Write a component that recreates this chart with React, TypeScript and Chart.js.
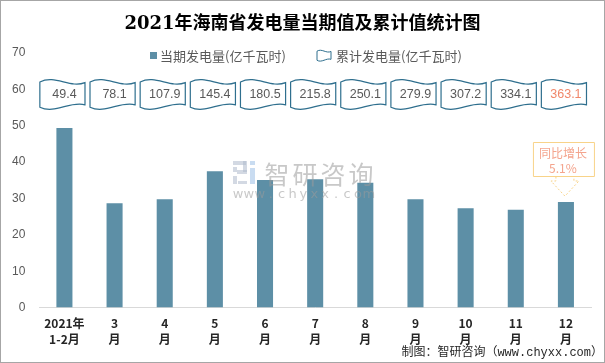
import React, { useEffect, useRef } from "react";
import { Chart, registerables } from "chart.js";

Chart.register(...registerables);

const TITLE = "2021年海南省发电量当期值及累计值统计图";
const LABELS_TOP = ["2021年", "3", "4", "5", "6", "7", "8", "9", "10", "11", "12"];
const LABELS_BOTTOM = ["1-2月", "月", "月", "月", "月", "月", "月", "月", "月", "月", "月"];
const MONTHLY = [49.4, 28.7, 29.8, 37.5, 35.1, 35.3, 34.3, 29.8, 27.3, 26.9, 29.0];
const CUMULATIVE = [49.4, 78.1, 107.9, 145.4, 180.5, 215.8, 250.1, 279.9, 307.2, 334.1, 363.1];
const SERIES_MONTHLY = "当期发电量(亿千瓦时)";
const SERIES_CUM = "累计发电量(亿千瓦时)";
const YOY_LABEL = "同比增长";
const YOY_VALUE = "5.1%";
const SOURCE = "制图：智研咨询（www.chyxx.com）";
const WM_TEXT = "智研咨询";
const WM_URL = "www.chyxx.com";

const SANS = "'Noto Sans CJK SC', 'Noto Sans', sans-serif";
const BAR_COLOR = "#5d8fa6";
const FLAG_STROKE = "#2f6f8e";

function wavePath(ctx: CanvasRenderingContext2D, L: number, T: number, R: number, B: number, a: number) {
  const w = R - L;
  ctx.beginPath();
  ctx.moveTo(L, T + a);
  ctx.bezierCurveTo(L + w / 3, T - a * 1.6, L + (2 * w) / 3, T + a * 3.2, R, T + a * 1.2);
  ctx.lineTo(R, B - a * 1.4);
  ctx.bezierCurveTo(L + (2 * w) / 3, B - a * 2.8, L + w / 3, B + a * 1.8, L, B - a * 0.6);
  ctx.closePath();
}

const decoPlugin = {
  id: "deco",
  afterDatasetsDraw(chart: any) {
    const ctx: CanvasRenderingContext2D = chart.ctx;
    ctx.save();
    // watermark
    const mx = 233;
    const my = 175;
    ctx.globalAlpha = 0.55;
    ctx.fillStyle = "#aeb9cc";
    ctx.fillRect(mx, my - 14, 13, 4);
    ctx.fillRect(mx + 10, my - 14, 4, 11);
    ctx.fillRect(mx + 4, my - 5, 10, 4);
    ctx.fillRect(mx, my - 8, 4, 5);
    ctx.fillRect(mx, my + 1, 4, 8);
    ctx.fillRect(mx + 5, my + 6, 9, 3);
    ctx.fillStyle = "#9cc0e6";
    ctx.fillRect(mx + 17, my - 14, 5, 4);
    ctx.fillRect(mx + 17, my - 7, 5, 16);
    ctx.fillStyle = "#9a9a9a";
    ctx.font = "25px " + SANS;
    ctx.textBaseline = "middle";
    ctx.textAlign = "center";
    Array.from(WM_TEXT).forEach((c, i) => ctx.fillText(c, mx + 44 + i * 28, my - 1));
    ctx.font = "13px 'DejaVu Sans', sans-serif";
    Array.from(WM_URL).forEach((c, i) => ctx.fillText(c, mx + 5 + i * 10.9, my + 20));
    ctx.restore();
  },
  afterDraw(chart: any) {
    const ctx: CanvasRenderingContext2D = chart.ctx;
    const xs = chart.scales.x;
    const ys = chart.scales.y;
    const W = chart.width;
    const H = chart.height;
    ctx.save();
    // border
    ctx.strokeStyle = "#a6a6a6";
    ctx.lineWidth = 1;
    ctx.strokeRect(0.5, 0.5, W - 1, H - 1);
    // title
    ctx.fillStyle = "#000";
    ctx.font = "bold 18px 'DejaVu Serif', 'Noto Sans CJK SC', serif";
    ctx.textAlign = "center";
    ctx.textBaseline = "middle";
    ctx.fillText(TITLE, W / 2, 24);
    // legend
    ctx.font = "13px " + SANS;
    ctx.textAlign = "left";
    ctx.fillStyle = BAR_COLOR;
    ctx.fillRect(150, 52, 7, 7);
    ctx.fillStyle = "#595959";
    ctx.fillText(SERIES_MONTHLY, 160, 56);
    ctx.strokeStyle = FLAG_STROKE;
    ctx.lineWidth = 1;
    wavePath(ctx, 317, 50, 331, 61, 1.2);
    ctx.fillStyle = "#fff";
    ctx.fill();
    ctx.stroke();
    ctx.fillStyle = "#595959";
    ctx.fillText(SERIES_CUM, 336, 56);
    // flags with cumulative values
    const pitch = xs.getPixelForValue(1) - xs.getPixelForValue(0);
    const fw = pitch * 0.9;
    CUMULATIVE.forEach((v, i) => {
      const cx = xs.getPixelForValue(i) - 2;
      wavePath(ctx, cx - fw / 2, 79, cx + fw / 2, 109, 3);
      ctx.fillStyle = "#fff";
      ctx.fill();
      ctx.strokeStyle = FLAG_STROKE;
      ctx.lineWidth = 1.2;
      ctx.stroke();
      ctx.fillStyle = i === CUMULATIVE.length - 1 ? "#f0876a" : "#595959";
      ctx.font = "12.5px 'Liberation Sans', sans-serif";
      ctx.textAlign = "center";
      ctx.fillText(v.toFixed(1), cx + 2, 95);
    });
    // yoy callout
    const li = MONTHLY.length - 1;
    const cx = xs.getPixelForValue(li);
    const tipY = ys.getPixelForValue(MONTHLY[li]) - 6;
    const bl = cx - 33, br = cx + 28, bt = 142, bb = 176;
    ctx.fillStyle = "#fff";
    ctx.strokeStyle = "#f8d389";
    ctx.lineWidth = 1;
    ctx.beginPath();
    ctx.rect(bl + 0.5, bt + 0.5, br - bl, bb - bt);
    ctx.fill();
    ctx.stroke();
    ctx.setLineDash([2, 2]);
    ctx.beginPath();
    ctx.moveTo(cx - 10, bb + 0.5);
    ctx.lineTo(cx - 10, bb + 5);
    ctx.lineTo(cx - 15, bb + 5);
    ctx.lineTo(cx - 1, tipY);
    ctx.lineTo(cx + 13, bb + 5);
    ctx.lineTo(cx + 8, bb + 5);
    ctx.lineTo(cx + 8, bb + 0.5);
    ctx.stroke();
    ctx.setLineDash([]);
    ctx.fillStyle = "#f4a48d";
    ctx.font = "12px " + SANS;
    ctx.textAlign = "center";
    ctx.fillText(YOY_LABEL, cx - 3, 153);
    ctx.fillText(YOY_VALUE, cx - 3, 168);
    // source
    ctx.fillStyle = "#262626";
    ctx.font = "12px 'Liberation Mono', 'Noto Sans CJK SC', monospace";
    ctx.textAlign = "right";
    ctx.fillText(SOURCE, W - 2, 353);
    ctx.restore();
  },
};

export default function App() {
  const ref = useRef<HTMLCanvasElement | null>(null);
  useEffect(() => {
    if (!ref.current) return;
    const chart = new Chart(ref.current, {
      type: "bar",
      data: {
        labels: LABELS_TOP.map((t, i) => [t, LABELS_BOTTOM[i]]),
        datasets: [
          {
            label: SERIES_MONTHLY,
            data: MONTHLY,
            backgroundColor: BAR_COLOR,
            barPercentage: 0.32,
            categoryPercentage: 1,
          },
        ],
      },
      options: {
        animation: false,
        responsive: false,
        layout: { padding: { top: 53, left: -2, right: 14, bottom: 7 } },
        plugins: {
          legend: { display: false },
          title: { display: false },
          tooltip: { enabled: false },
        },
        scales: {
          x: {
            grid: { display: false, drawTicks: false },
            border: { display: true, color: "#d9d9d9", width: 1 },
            ticks: {
              color: "#262626",
              font: { size: 12, weight: "bold", family: SANS, lineHeight: 1.35 },
              padding: 8,
              maxRotation: 0,
              autoSkip: false,
            },
          },
          y: {
            min: 0,
            max: 70,
            grid: { display: false, drawTicks: false },
            border: { display: false },
            ticks: {
              stepSize: 10,
              color: "#595959",
              font: { size: 12, family: "'Liberation Sans', sans-serif" },
              padding: 14,
            },
          },
        },
      },
      plugins: [decoPlugin],
    } as any);
    return () => chart.destroy();
  }, []);
  return (
    <div style={{ position: "absolute", left: 0, top: 0, width: 605, height: 363, background: "#fff" }}>
      <canvas ref={ref} width={605} height={363} style={{ display: "block" }} />
    </div>
  );
}
